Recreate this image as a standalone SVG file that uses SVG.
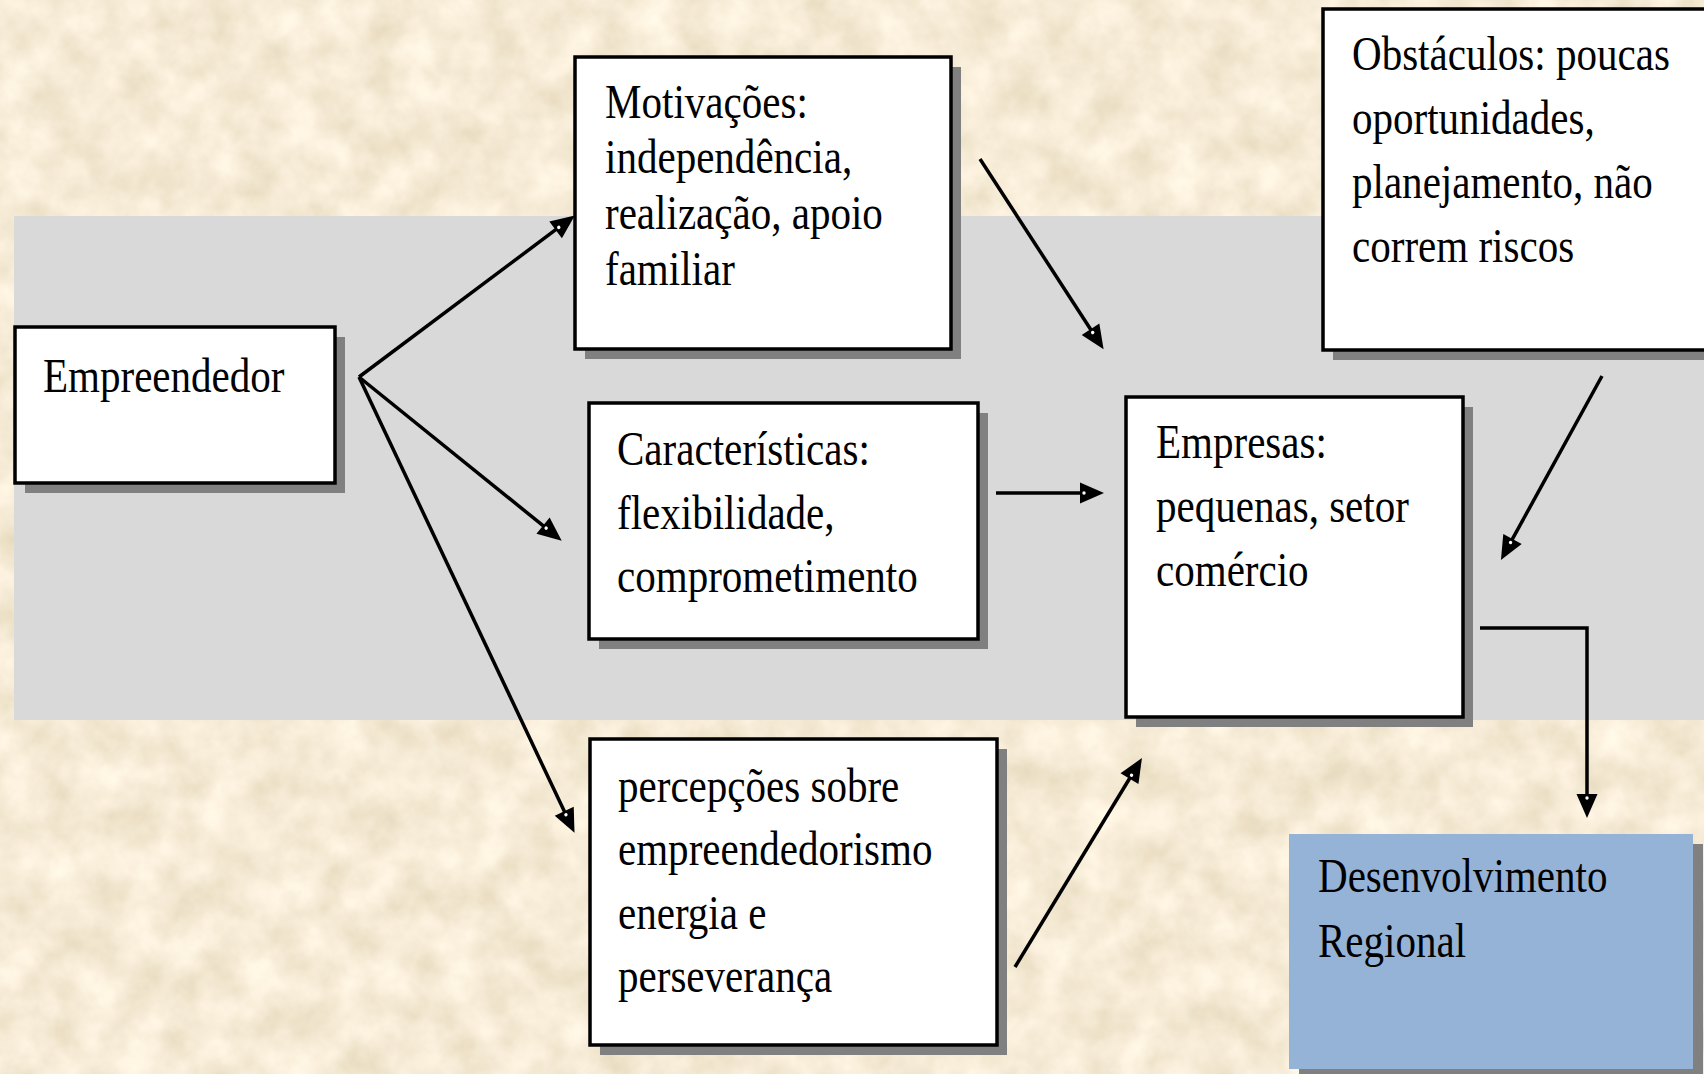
<svg xmlns="http://www.w3.org/2000/svg" width="1704" height="1074" viewBox="0 0 1704 1074">
  <defs>
    <filter id="parch" x="0" y="0" width="100%" height="100%">
      <feTurbulence type="fractalNoise" baseFrequency="0.025" numOctaves="4" seed="7" result="n"/>
      <feColorMatrix in="n" type="matrix" values="0.30 0 0 0 0.77  0.32 0 0 0 0.67  0.38 0 0 0 0.48  0 0 0 0 1"/>
    </filter>
    <marker id="arr" markerUnits="userSpaceOnUse" markerWidth="26" markerHeight="22" refX="6" refY="10.5" orient="auto" overflow="visible">
      <path d="M0,0 L24,10.5 L0,21 Z" fill="#000"/>
      <circle cx="4" cy="10.5" r="1.7" fill="#fff"/>
    </marker>
    <style>
      .box { fill: #ffffff; stroke: #000000; stroke-width: 3.5; }
      .shadow { fill: #808080; }
      .lbl { font-family: "Liberation Serif", "Times New Roman", serif; font-size: 48px; fill: #000000; }
      .conn { fill: none; stroke: #000000; stroke-width: 3.5; marker-end: url(#arr); }
    </style>
  </defs>

  <!-- background -->
  <rect x="0" y="0" width="1704" height="1074" fill="#ead6aa"/>
  <rect x="0" y="0" width="1704" height="1074" filter="url(#parch)"/>
  <rect x="14" y="216" width="1690" height="504" fill="#d9d9d9"/>

  <g id="node-empreendedor">
    <rect class="shadow" x="25" y="337" width="320" height="156"/>
    <rect class="box" x="15" y="327" width="320" height="156"/>
    <text class="lbl" transform="translate(43,392) scale(0.855,1)"><tspan x="0" y="0">Empreendedor</tspan></text>
  </g>

  <g id="node-motivacoes">
    <rect class="shadow" x="585" y="67" width="376" height="292"/>
    <rect class="box" x="575" y="57" width="376" height="292"/>
    <text class="lbl" transform="translate(605,118) scale(0.855,1)">
      <tspan x="0" y="0">Motivações:</tspan>
      <tspan x="0" y="55">independência,</tspan>
      <tspan x="0" y="111">realização, apoio</tspan>
      <tspan x="0" y="167">familiar</tspan>
    </text>
  </g>

  <g id="node-caracteristicas">
    <rect class="shadow" x="599" y="413" width="389" height="236"/>
    <rect class="box" x="589" y="403" width="389" height="236"/>
    <text class="lbl" transform="translate(617,465) scale(0.855,1)">
      <tspan x="0" y="0">Características:</tspan>
      <tspan x="0" y="64">flexibilidade,</tspan>
      <tspan x="0" y="127">comprometimento</tspan>
    </text>
  </g>

  <g id="node-percepcoes">
    <rect class="shadow" x="600" y="749" width="407" height="306"/>
    <rect class="box" x="590" y="739" width="407" height="306"/>
    <text class="lbl" transform="translate(618,802) scale(0.855,1)">
      <tspan x="0" y="0">percepções sobre</tspan>
      <tspan x="0" y="63">empreendedorismo</tspan>
      <tspan x="0" y="127">energia e</tspan>
      <tspan x="0" y="190">perseverança</tspan>
    </text>
  </g>

  <g id="node-empresas">
    <rect class="shadow" x="1136" y="407" width="337" height="320"/>
    <rect class="box" x="1126" y="397" width="337" height="320"/>
    <text class="lbl" transform="translate(1156,458) scale(0.855,1)">
      <tspan x="0" y="0">Empresas:</tspan>
      <tspan x="0" y="64">pequenas, setor</tspan>
      <tspan x="0" y="128">comércio</tspan>
    </text>
  </g>

  <g id="node-obstaculos">
    <rect class="shadow" x="1333" y="19" width="400" height="341"/>
    <rect class="box" x="1323" y="9" width="400" height="341"/>
    <text class="lbl" transform="translate(1352,70) scale(0.855,1)">
      <tspan x="0" y="0">Obstáculos: poucas</tspan>
      <tspan x="0" y="64">oportunidades,</tspan>
      <tspan x="0" y="128">planejamento, não</tspan>
      <tspan x="0" y="192">correm riscos</tspan>
    </text>
  </g>

  <g id="node-desenvolvimento">
    <rect class="shadow" x="1299" y="844" width="404" height="235"/>
    <rect x="1289" y="834" width="404" height="235" fill="#95b3d7"/>
    <text class="lbl" transform="translate(1318,892) scale(0.855,1)">
      <tspan x="0" y="0">Desenvolvimento</tspan>
      <tspan x="0" y="65">Regional</tspan>
    </text>
  </g>

  <g id="connectors">
    <path class="conn" d="M359,377 L560.4,226.2"/>
    <path class="conn" d="M359,377 L547.7,529.4"/>
    <path class="conn" d="M359,377 L566.8,816.6"/>
    <path class="conn" d="M980,159 L1093.8,334.2"/>
    <path class="conn" d="M996,493 L1086,493"/>
    <path class="conn" d="M1015,967 L1132.6,773.5"/>
    <path class="conn" d="M1602,376 L1509.6,544.2"/>
    <path class="conn" d="M1480,628 L1587,628 L1587,800"/>
  </g>
</svg>
